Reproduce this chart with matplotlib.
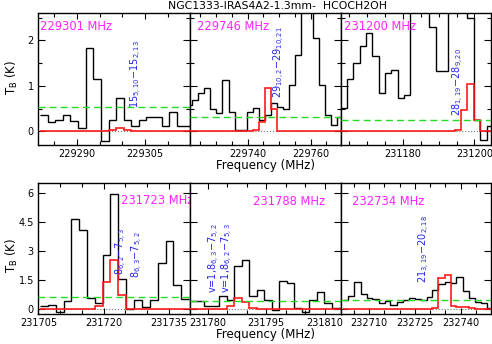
import matplotlib
matplotlib.use("Agg")
import matplotlib.pyplot as plt
from matplotlib.ticker import MultipleLocator, FormatStrFormatter
import numpy as np

# ---- data (channel centres in MHz, T_B in K) ----
p1_freq = [229282.7, 229284.3, 229286.0, 229287.7, 229289.4, 229291.1, 229292.7,
           229294.4, 229296.1, 229297.8, 229299.4, 229301.1, 229302.8, 229304.5,
           229306.1, 229307.8, 229309.5, 229311.2, 229312.8, 229314.5]
p1_obs = [0.37, 0.21, 0.25, 0.37, 0.22, 0.07, 1.83, 1.16, -0.21, 0.25, 0.74, 0.25,
          0.11, 0.26, 0.31, 0.31, 0.11, 0.43, 0.12, 0.12]
p1_mod = [0, 0, 0, 0, 0, 0, 0, 0, 0, 0.03, 0.08, 0.03, 0, 0, 0, 0, 0, 0, 0, 0]

p2_freq = [229721.5, 229723.5, 229725.4, 229727.3, 229729.2, 229731.1, 229733.0,
           229735.0, 229736.9, 229738.8, 229740.7, 229742.6, 229744.5, 229746.4,
           229748.4, 229750.3, 229752.2, 229754.1, 229756.0, 229757.9, 229759.8,
           229761.8, 229763.7, 229765.6, 229767.5, 229769.4]
p2_obs = [0.58, 0.68, 0.84, 0.95, 0.49, 0.40, 1.13, 0.43, 0.04, 0.04, 0.43, 0.51,
          0.24, 0.35, 0.63, 0.54, 0.50, 1.01, 1.68, 3.0, 3.2, 2.05, 1.02, 0.35,
          0.13, 0.32]
p2_mod = [0, 0, 0, 0, 0, 0, 0, 0, 0, 0, 0, 0.02, 0.21, 0.95, 0.49, 0.01, 0, 0, 0,
          0, 0, 0, 0, 0, 0, 0]

p3_freq = [231163.6, 231165.4, 231167.1, 231168.9, 231170.7, 231172.4, 231174.2,
           231176.0, 231177.7, 231179.5, 231181.3, 231183.0, 231184.8, 231186.6,
           231188.3, 231190.1, 231191.9, 231193.6, 231195.4, 231197.2, 231198.9,
           231200.7, 231202.5, 231204.2]
p3_obs = [0.51, 1.15, 1.5, 1.87, 2.16, 1.66, 0.84, 1.28, 1.34, 0.73, 0.80, 3.0,
          3.3, 3.1, 2.3, 1.33, 1.33, 3.2, 3.5, 3.0, 2.5, 0.24, -0.2, 0.11]
p3_mod = [0, 0, 0, 0, 0, 0, 0, 0, 0, 0, 0, 0, 0, 0, 0, 0, 0, 0, 0.02, 0.47, 1.04,
          0.24, 0, 0]

p4_freq = [231706.2, 231708.1, 231709.9, 231711.7, 231713.5, 231715.3, 231717.1,
           231718.9, 231720.7, 231722.5, 231724.3, 231726.1, 231728.0, 231729.8,
           231731.6, 231733.4, 231735.2, 231737.0, 231738.8]
p4_obs = [0.15, 0.19, -0.15, 0.41, 4.63, 4.09, 0.58, 0.32, 2.8, 5.93, 1.56, 0.02,
          0.46, 0.12, 0.46, 2.38, 3.49, 1.26, 0.5]
p4_mod = [0, 0, 0, 0, 0, 0, 0, 0.15, 1.38, 2.55, 0.75, 0.03, 0, 0, 0, 0, 0, 0, 0]

p5_freq = [231776.3, 231778.2, 231780.1, 231782.0, 231783.9, 231785.9, 231787.8,
           231789.7, 231791.6, 231793.5, 231795.5, 231797.4, 231799.3, 231801.2,
           231803.1, 231805.1, 231807.0, 231808.9, 231810.8, 231812.7, 231814.7]
p5_obs = [0.41, 0.41, 0.17, 0.17, 0.67, 0.48, 2.2, 2.55, 0.67, 0.97, 0.46, -0.02,
          1.47, 1.35, 0.07, -0.14, 0.46, 0.89, 0.32, 0.07, 0.07]
p5_mod = [0, 0, 0, 0, 0, 0.15, 0.58, 0.36, 0.07, 0, 0, 0, 0, 0, 0, 0, 0, 0, 0, 0, 0]

p6_freq = [232702.3, 232704.2, 232706.2, 232708.2, 232710.1, 232712.1, 232714.1,
           232716.0, 232718.0, 232720.0, 232721.9, 232723.9, 232725.9, 232727.8,
           232729.8, 232731.7, 232733.7, 232735.7, 232737.6, 232739.6, 232741.6,
           232743.5, 232745.5, 232747.5, 232749.4]
p6_obs = [0.48, 0.7, 1.42, 0.8, 0.55, 0.5, 0.32, 0.4, 0.2, 0.38, 0.46, 0.55, 0.5,
          0.45, 0.65, 0.98, 1.3, 1.4, 1.35, 1.64, 0.92, 0.58, 0.38, 0.3, 0.07]
p6_mod = [0, 0, 0, 0, 0, 0, 0, 0, 0, 0, 0, 0, 0, 0, 0, 0.07, 1.61, 1.74, 0.15, 0.12,
          0.1, 0.05, 0, 0, 0]

rms3 = [0.54, 0.32, 0.24, 0.63, 0.41, 0.46]
line_labels = ["229301 MHz", "229746 MHz", "231200 MHz",
               "231723 MHz", "231788 MHz", "232734 MHz"]
transitions = [
    ["15$_{5,10}$\u221215$_{2,13}$"],
    ["29$_{10,2}$\u221229$_{10,21}$"],
    ["28$_{1,19}$\u221228$_{9,20}$"],
    ["8$_{6,2}$\u22127$_{5,3}$", "8$_{6,3}$\u22127$_{5,2}$"],
    ["v=1,8$_{6,3}$\u22127$_{5,2}$", "v=1,8$_{6,2}$\u22127$_{5,3}$"],
    ["21$_{3,19}$\u221220$_{2,18}$"],
]

freqs = [p1_freq, p2_freq, p3_freq, p4_freq, p5_freq, p6_freq]
obs = [p1_obs, p2_obs, p3_obs, p4_obs, p5_obs, p6_obs]
mods = [p1_mod, p2_mod, p3_mod, p4_mod, p5_mod, p6_mod]

# ---- layout ----
xlims = [(229281.4, 229314.8), (229721.6, 229769.6), (231162.8, 231204.6),
         (231704.9, 231739.8), (231775.4, 231814.1), (232700.8, 232749.9)]
xmajor = [15, 20, 20, 15, 15, 15]
label_pos = [(0.013, 0.90), (0.051, 0.894), (0.018, 0.898),
             (0.55, 0.863), (0.421, 0.857), (0.073, 0.857)]
trans_pos = [[(229303.0, 0.51)], [(229750.2, 0.73)], [(231195.4, 0.33)],
             [(231724.2, 1.76), (231727.8, 1.60)],
             [(231781.7, 0.84), (231785.2, 0.84)], [(232728.1, 1.35)]]

lefts = [38 / 492, 189.5 / 492, 341 / 492]
widths = [151.5 / 492, 151.5 / 492, 150 / 492]
bottoms = [1 - 145 / 344, 1 - 314 / 344]
heights = [132 / 344, 131 / 344]


def edges_from(c):
    c = np.asarray(c, dtype=float)
    mid = (c[1:] + c[:-1]) / 2
    return np.concatenate([[2 * c[0] - mid[0]], mid, [2 * c[-1] - mid[-1]]])


fig = plt.figure(figsize=(4.92, 3.44), dpi=100)
green = '#22dd22'

for i in range(6):
    row, col = divmod(i, 3)
    ax = fig.add_axes([lefts[col], bottoms[row], widths[col], heights[row]])
    e = edges_from(freqs[i])
    ax.axhline(0, color='0.45', ls=':', lw=0.8, zorder=1)
    ax.stairs(obs[i], e, baseline=None, color='black', lw=1.0, zorder=2)
    ax.stairs(mods[i], e, baseline=None, color='#ff1a1a', lw=1.2, zorder=3)
    ax.axhline(rms3[i], color=green, ls=(0, (5, 3)), lw=1.0, zorder=4)

    ax.set_xlim(*xlims[i])
    if row == 0:
        ax.set_ylim(-0.3, 2.6)
        ax.yaxis.set_major_locator(MultipleLocator(1))
        ax.yaxis.set_minor_locator(MultipleLocator(0.5))
    else:
        ax.set_ylim(-0.25, 6.5)
        ax.yaxis.set_major_locator(MultipleLocator(1.5))
    ax.yaxis.set_major_formatter(FormatStrFormatter('%g'))
    ax.xaxis.set_major_locator(MultipleLocator(xmajor[i]))
    ax.xaxis.set_minor_locator(MultipleLocator(5))
    ax.xaxis.set_major_formatter(FormatStrFormatter('%d'))

    ax.tick_params(which='both', direction='in', top=True, right=True,
                   labelsize=7, width=0.8, pad=3)
    ax.tick_params(axis='y', which='major', length=5)
    ax.tick_params(axis='y', which='minor', length=3)
    ax.tick_params(axis='x', which='major', length=4)
    ax.tick_params(axis='x', which='minor', length=3)
    if col != 0:
        ax.tick_params(axis='y', labelleft=False)
    if col == 1:
        ax.set_xlabel('Frequency (MHz)', fontsize=8.5, labelpad=0)
    for s in ax.spines.values():
        s.set_linewidth(1.0)

    lx, ly = label_pos[i]
    ax.text(lx, ly, line_labels[i], transform=ax.transAxes, color='#ff22ff',
            fontsize=8.3, ha='left', va='center')
    for txt, (tx, ty) in zip(transitions[i], trans_pos[i]):
        ax.text(tx, ty, txt, color='#2222ee', fontsize=7, rotation=90,
                ha='center', va='bottom')

# y labels placed at a fixed distance from the left edge, as in the reference
fig.text(12 / 492, 1 - 78 / 344, 'T$_{\\rm B}$ (K)', rotation=90, fontsize=8.5,
         ha='center', va='center')
fig.text(12 / 492, 1 - 256 / 344, 'T$_{\\rm B}$ (K)', rotation=90, fontsize=8.5,
         ha='center', va='center')

fig.text(0.564, 0.998, 'NGC1333-IRAS4A2-1.3mm-  HCOCH2OH', ha='center', va='top',
         fontsize=7.8)

fig.savefig('out.png', dpi=100)
